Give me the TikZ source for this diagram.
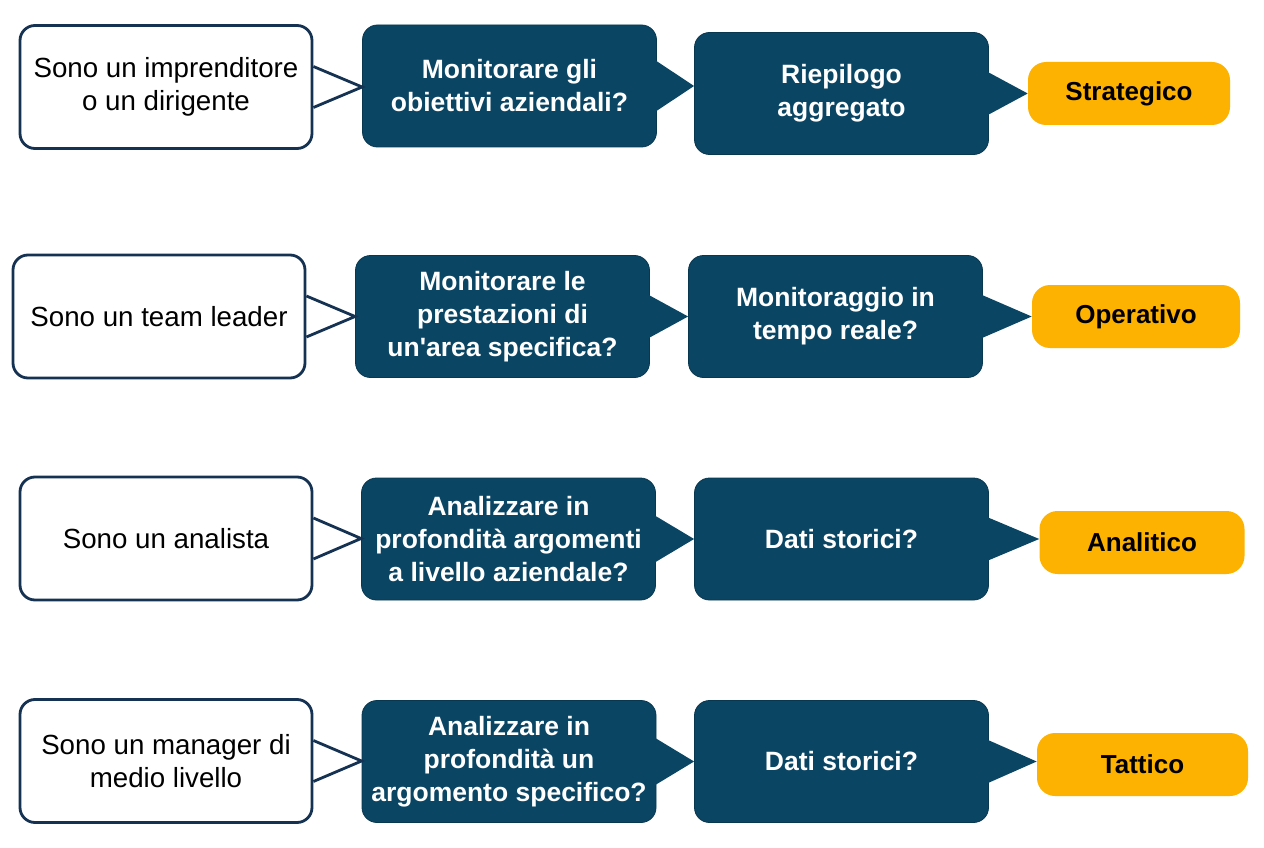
\documentclass[tikz,border=0pt]{standalone}
\usepackage{fontspec}
\setmainfont{Liberation Sans}
\usepackage{tikz}
\definecolor{box_navy}{RGB}{10,69,100}
\definecolor{line_navy}{RGB}{22,50,82}
\definecolor{lvl_orange}{RGB}{253,178,2}

\begin{document}
\begin{tikzpicture}[x=1pt,y=-1pt,semithick]
    \tikzstyle{who}=[draw=line_navy, line width=2.8pt, fill=white, rounded corners=15pt, minimum width=292pt, minimum height=123pt, align=center, text=black, font=\fontsize{27.7}{33}\selectfont]
    \tikzstyle{ask}=[draw=box_navy!80!black, line width=0.8pt, fill=box_navy, rounded corners=15pt, minimum width=294pt, minimum height=122pt, align=center, text=white, font=\fontsize{26.5}{33}\selectfont\bfseries]
    \tikzstyle{lvl}=[fill=lvl_orange, rounded corners=18pt, minimum height=63pt, align=center, text=black, font=\fontsize{26}{33}\selectfont\bfseries]
    \tikzstyle{wptr}=[draw=line_navy, line width=2.8pt]
    \tikzstyle{dptr}=[fill=box_navy]

    \useasboundingbox (0,0) rectangle (1264,848);

    % row 1
    \node[who] (w1) at (166,87)     {Sono un imprenditore\\o un dirigente};
    \node[ask] (q1) at (509.5,86)   {Monitorare gli\\obiettivi aziendali?};
    \node[ask] (r1) at (841.5,93.5) {Riepilogo\\aggregato};
    \node[lvl,minimum width=202pt] (l1) at (1129,93.5) {Strategico};

    % row 2
    \node[who] (w2) at (159,316.5)   {Sono un team leader};
    \node[ask] (q2) at (502.5,316.5) {Monitorare le\\prestazioni di\\un\textquotesingle area specifica?};
    \node[ask] (r2) at (835.5,316.5) {Monitoraggio in\\tempo reale?};
    \node[lvl,minimum width=208pt] (l2) at (1136,316.5) {Operativo};

    % row 3
    \node[who] (w3) at (166,538.5)   {Sono un analista};
    \node[ask] (q3) at (508.5,539)   {Analizzare in\\profondità argomenti\\a livello aziendale?};
    \node[ask] (r3) at (841.5,539)   {Dati storici?};
    \node[lvl,minimum width=205pt] (l3) at (1142,542.5) {Analitico};

    % row 4
    \node[who] (w4) at (166,761)     {Sono un manager di\\medio livello};
    \node[ask] (q4) at (509,761.5)   {Analizzare in\\profondità un\\argomento specifico?};
    \node[ask] (r4) at (841.5,761.5) {Dati storici?};
    \node[lvl,minimum width=211pt] (l4) at (1142.5,764.5) {Tattico};

    % pointers
    \draw[wptr] ([yshift=20.5pt]w1.east) -- (w1.east -| q1.west) -- ([yshift=-20.5pt]w1.east);
    \draw[wptr] ([yshift=20.5pt]w2.east) -- (w2.east -| q2.west) -- ([yshift=-20.5pt]w2.east);
    \draw[wptr] ([yshift=20.5pt]w3.east) -- (w3.east -| q3.west) -- ([yshift=-20.5pt]w3.east);
    \draw[wptr] ([yshift=20.5pt]w4.east) -- (w4.east -| q4.west) -- ([yshift=-20.5pt]w4.east);
    \fill[dptr] ([xshift=-2pt,yshift=26pt]q1.east) -- (q1.east -| r1.west) -- ([xshift=-2pt,yshift=-26pt]q1.east) -- cycle;
    \fill[dptr] ([xshift=-2pt,yshift=22pt]q2.east) -- (q2.east -| r2.west) -- ([xshift=-2pt,yshift=-22pt]q2.east) -- cycle;
    \fill[dptr] ([xshift=-2pt,yshift=24pt]q3.east) -- (q3.east -| r3.west) -- ([xshift=-2pt,yshift=-24pt]q3.east) -- cycle;
    \fill[dptr] ([xshift=-2pt,yshift=24pt]q4.east) -- (q4.east -| r4.west) -- ([xshift=-2pt,yshift=-24pt]q4.east) -- cycle;
    \fill[dptr] ([xshift=-2pt,yshift=22pt]r1.east) -- (r1.east -| l1.west) -- ([xshift=-2pt,yshift=-22pt]r1.east) -- cycle;
    \fill[dptr] ([xshift=-2pt,yshift=22pt]r2.east) -- (r2.east -| l2.west) -- ([xshift=-2pt,yshift=-22pt]r2.east) -- cycle;
    \fill[dptr] ([xshift=-2pt,yshift=22pt]r3.east) -- (r3.east -| l3.west) -- ([xshift=-2pt,yshift=-22pt]r3.east) -- cycle;
    \fill[dptr] ([xshift=-2pt,yshift=22pt]r4.east) -- (r4.east -| l4.west) -- ([xshift=-2pt,yshift=-22pt]r4.east) -- cycle;
\end{tikzpicture}
\end{document}
